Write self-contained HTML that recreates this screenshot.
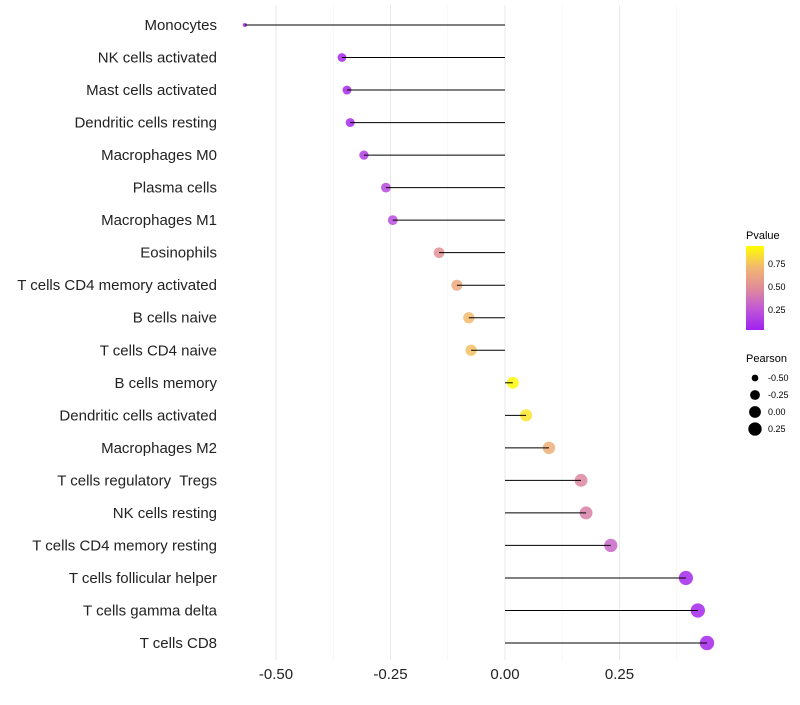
<!DOCTYPE html>
<html><head><meta charset="utf-8"><style>
body{margin:0;background:#fff;font-family:"Liberation Sans",sans-serif;}
text{white-space:pre;}
</style></head><body>
<svg id="chart" width="800" height="700" xmlns="http://www.w3.org/2000/svg">
<defs><linearGradient id="pg" x1="0" y1="1" x2="0" y2="0">
<stop offset="0" stop-color="#a020f0"/><stop offset="0.25" stop-color="#c058d8"/><stop offset="0.5" stop-color="#e08c98"/><stop offset="0.75" stop-color="#f2b870"/><stop offset="1" stop-color="#ffff00"/></linearGradient></defs>
<g id="grid"></g>
<g id="dots"></g>
<g id="marks"></g>
<g id="ylabels"></g>
<g id="xlabels"></g>
<g>
<text x="746" y="239" font-size="11">Pvalue</text>
<rect x="746" y="246" width="18" height="84" fill="url(#pg)"/>
<text x="768" y="267" font-size="9">0.75</text>
<text x="768" y="290" font-size="9">0.50</text>
<text x="768" y="313" font-size="9">0.25</text>
</g>
<g id="sizeleg">
<text x="746" y="362" font-size="11">Pearson</text>
</g>
</svg>
<script>
const categories=["Monocytes","NK cells activated","Mast cells activated","Dendritic cells resting","Macrophages M0","Plasma cells","Macrophages M1","Eosinophils","T cells CD4 memory activated","B cells naive","T cells CD4 naive","B cells memory","Dendritic cells activated","Macrophages M2","T cells regulatory  Tregs","NK cells resting","T cells CD4 memory resting","T cells follicular helper","T cells gamma delta","T cells CD8"];
const pearson=[-0.568,-0.356,-0.345,-0.338,-0.308,-0.260,-0.245,-0.144,-0.105,-0.079,-0.074,0.017,0.046,0.096,0.166,0.177,0.231,0.395,0.421,0.441];
const pvalues=[0.02,0.03,0.04,0.05,0.12,0.17,0.19,0.50,0.63,0.72,0.74,0.93,0.86,0.66,0.45,0.42,0.30,0.04,0.03,0.03];
const xTicks=[-0.5,-0.25,0,0.25];
const xTickLabels=["-0.50","-0.25","0.00","0.25"];
const legendPearson=[-0.5,-0.25,0,0.25];
const legendPearsonLabels=["-0.50","-0.25","0.00","0.25"];
const NS="http://www.w3.org/2000/svg";
const x=v=>505+v*458;
const y=i=>25+i*(618/19);
const pmin=0,pmax=0.95;
const stops=[[160,32,240],[192,88,216],[224,140,152],[242,184,112],[255,255,0]];
function col(p){let t=Math.max(0,Math.min(1,(p-pmin)/(pmax-pmin)))*4;
const k=Math.min(3,Math.floor(t)),f=t-k,a=stops[k],b=stops[k+1];
return `rgb(${a.map((c,j)=>Math.round(c+(b[j]-c)*f)).join(',')})`;}
const smin=Math.min(...pearson),smax=Math.max(...pearson);
const r=v=>2+5.2*Math.sqrt(Math.max(0,(v-smin)/(smax-smin)));
function mk(tag,at,parent){const e=document.createElementNS(NS,tag);for(const k in at)e.setAttribute(k,at[k]);parent.appendChild(e);return e;}
const grid=document.getElementById('grid');
[-0.375,-0.125,0.125,0.375].forEach(v=>{const l=mk('line',{x1:x(v),x2:x(v),y1:5,y2:660,stroke:'#f2f2f2','stroke-width':0.6},grid);

});
xTicks.forEach((v,i)=>{const l=mk('line',{x1:x(v),x2:x(v),y1:5,y2:660,stroke:'#ebebeb','stroke-width':1.1},grid);


const t=mk('text',{x:x(v),y:679,'font-size':15,'text-anchor':'middle',fill:'#222'},document.getElementById('xlabels'));
t.textContent=xTickLabels[i];

});
const marks=document.getElementById('marks'),dots=document.getElementById('dots'),yl=document.getElementById('ylabels');
categories.forEach((c,i)=>{
const d=mk('circle',{cx:x(pearson[i]),cy:y(i),r:r(pearson[i]),fill:col(pvalues[i]),'fill-opacity':0.85},dots);


const s=mk('line',{x1:x(0),x2:x(pearson[i]),y1:y(i),y2:y(i),stroke:'#000','stroke-width':1},marks);


const t=mk('text',{x:217,y:y(i)+5,'font-size':15,'text-anchor':'end',fill:'#222'},yl);
t.textContent=c;

});
const sl=document.getElementById('sizeleg');
legendPearson.forEach((v,i)=>{const cy=378+i*17;
const d=mk('circle',{cx:755,cy:cy,r:r(v),fill:'#000'},sl);


const t=mk('text',{x:768,y:cy+3,'font-size':9},sl);
t.textContent=legendPearsonLabels[i];

});
</script>
</body></html>
